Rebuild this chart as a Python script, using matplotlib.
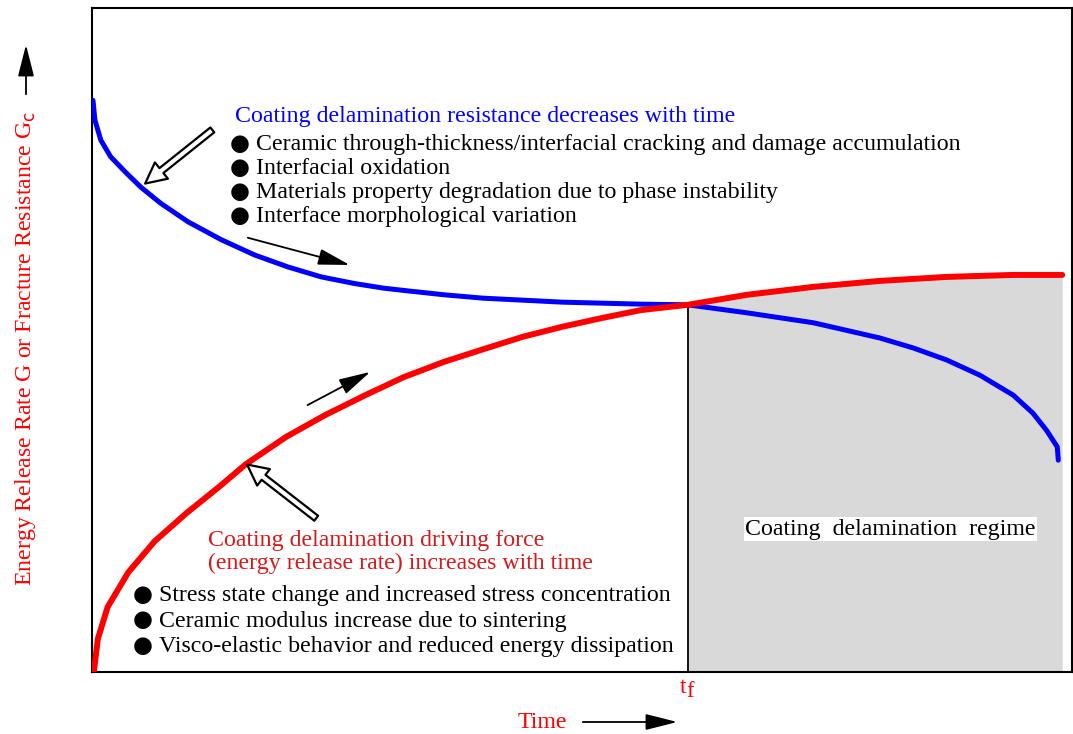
import matplotlib
matplotlib.use("Agg")
import matplotlib.pyplot as plt
from matplotlib.patches import FancyArrowPatch

plt.rcParams['font.family'] = ['Liberation Serif', 'DejaVu Serif']

# schematic curves (time 0..10, G 0..10)
t_resist = [0.01, 0.03, 0.09, 0.19, 0.34, 0.50, 0.70, 0.98, 1.32, 1.66, 2.00, 2.34,
            2.68, 2.98, 3.22, 3.60, 3.99, 4.80, 5.60, 6.08, 6.68, 7.36, 8.04, 8.38, 8.72,
            9.06, 9.40, 9.60, 9.74, 9.85, 9.86]
g_resist = [8.61, 8.31, 8.01, 7.76, 7.53, 7.30, 7.06, 6.78, 6.51, 6.28, 6.10, 5.95,
            5.85, 5.78, 5.74, 5.68, 5.63, 5.57, 5.54, 5.53, 5.41, 5.26, 5.03, 4.88, 4.70,
            4.47, 4.17, 3.90, 3.64, 3.39, 3.19]

t_drive = [0.02, 0.06, 0.16, 0.37, 0.64, 0.97, 1.29, 1.57, 1.98, 2.38, 2.79, 3.18,
           3.59, 3.99, 4.40, 4.80, 5.20, 5.60, 6.08, 6.68, 7.36, 8.04, 8.72, 9.40, 9.90]
g_drive = [0.02, 0.50, 0.98, 1.50, 1.97, 2.40, 2.78, 3.13, 3.54, 3.87, 4.17, 4.44,
           4.67, 4.86, 5.05, 5.20, 5.33, 5.45, 5.53, 5.68, 5.80, 5.89, 5.95, 5.98, 5.98]

t_fail = 6.08
g_fail = 5.53

resist_items = ["Ceramic through-thickness/interfacial cracking and damage accumulation",
                "Interfacial oxidation",
                "Materials property degradation due to phase instability",
                "Interface morphological variation"]
drive_items = ["Stress state change and increased stress concentration",
               "Ceramic modulus increase due to sintering",
               "Visco-elastic behavior and reduced energy dissipation"]

fig = plt.figure(figsize=(10.73, 7.34), dpi=100)
ax = fig.add_axes([92 / 1073, 1 - 672 / 734, 980 / 1073, 664 / 734])
ax.set_xlim(0, 10)
ax.set_ylim(0, 10)
ax.set_xticks([])
ax.set_yticks([])
for s in ax.spines.values():
    s.set_linewidth(1.5)

# delamination regime shading
shade_t = [t for t in t_drive if t >= t_fail]
shade_g = [g for t, g in zip(t_drive, g_drive) if t >= t_fail]
ax.fill_between(shade_t, 0, shade_g, color='#d9d9d9', lw=0, zorder=1)
ax.plot([t_fail, t_fail], [0, g_fail], color='black', lw=1.3, zorder=2)

ax.plot(t_resist, g_resist, color='#0000ff', lw=3.6, solid_capstyle='round',
        solid_joinstyle='round', zorder=3)
ax.plot(t_drive, g_drive, color='#ff0000', lw=4.3, solid_capstyle='round',
        solid_joinstyle='round', zorder=4)

fs = 17.2
red_txt = '#d41a1a'


def bullet_list(x, y0, dy, items):
    for i, s in enumerate(items):
        y = y0 - i * dy
        ax.text(x, y + 0.02, "\u25cf", fontsize=16.5, family='DejaVu Sans', va='center', ha='left')
        ax.text(x + 0.26, y, s, fontsize=fs, va='center', ha='left')


ax.text(1.46, 8.37, "Coating delamination resistance decreases with time",
        color='#0000ff', fontsize=fs, va='center', ha='left')
bullet_list(1.41, 7.94, 0.36, resist_items)

ax.text(1.18, 1.98, "Coating delamination driving force", color=red_txt,
        fontsize=fs, va='center', ha='left')
ax.text(1.18, 1.63, "(energy release rate) increases with time", color=red_txt,
        fontsize=fs, va='center', ha='left')
bullet_list(0.42, 1.15, 0.385, drive_items)

ax.text(8.15, 2.15, "Coating  delamination  regime", fontsize=fs, va='center', ha='center',
        bbox=dict(facecolor='white', edgecolor='none', pad=1), zorder=5)

# hollow arrows
for tail, tip in [((1.25, 8.19), (0.52, 7.33)), ((2.31, 2.29), (1.56, 3.15))]:
    ax.add_patch(FancyArrowPatch(tail, tip, arrowstyle='simple,head_length=15,head_width=15,tail_width=4.5',
                                 mutation_scale=1, fc='white', ec='black', lw=1.6, zorder=6))
# thin trend arrows
for tail, tip in [((1.59, 6.54), (2.63, 6.13)), ((2.20, 4.02), (2.84, 4.52))]:
    ax.annotate("", xy=tip, xytext=tail,
                arrowprops=dict(arrowstyle='-|>,head_length=1.3,head_width=0.33', color='black',
                                lw=1.3, mutation_scale=15, shrinkA=0, shrinkB=0))

ax.text(t_fail - 0.02, -0.23, "t", color='#ff0000', fontsize=fs, ha='right', va='center', clip_on=False)
ax.text(t_fail - 0.02, -0.29, "f", color='#ff0000', fontsize=fs * 0.95, ha='left', va='center', clip_on=False)

fig.text(542 / 1073, 1 - 722 / 734, "Time", color='#ff0000', fontsize=fs, ha='center', va='center')
fig.text(26 / 1073, 1 - 348 / 734, "Energy Release Rate G or Fracture Resistance G$_{\\mathrm{c}}$",
         color='#ff0000', fontsize=fs, rotation=90, ha='center', va='center')

fig.add_artist(FancyArrowPatch((580 / 1073, 12 / 734), (680 / 1073, 12 / 734),
                               transform=fig.transFigure, arrowstyle='-|>,head_length=1.3,head_width=0.33',
                               mutation_scale=15, color='black', lw=1.3))
fig.add_artist(FancyArrowPatch((26 / 1073, 1 - 97 / 734), (26 / 1073, 1 - 42 / 734),
                               transform=fig.transFigure, arrowstyle='-|>,head_length=1.3,head_width=0.33',
                               mutation_scale=15, color='black', lw=1.3))

fig.savefig("out.png", dpi=100)
